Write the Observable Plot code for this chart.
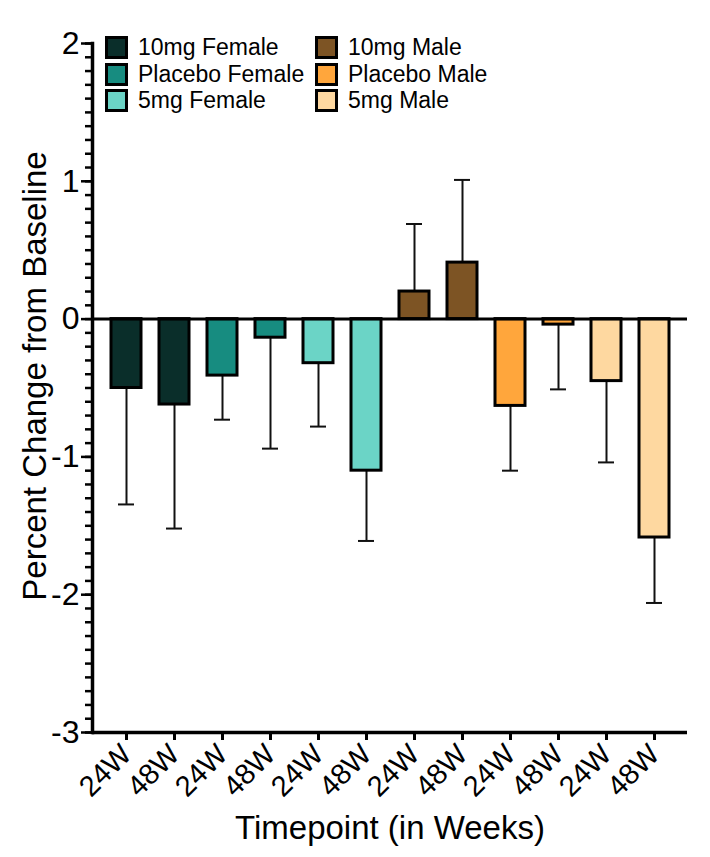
<!DOCTYPE html>
<html>
<head>
<meta charset="utf-8">
<script src="https://cdn.jsdelivr.net/npm/d3@7"></script>
<script src="https://cdn.jsdelivr.net/npm/@observablehq/plot@0.6"></script>
<style>
  html, body { margin: 0; padding: 0; background: #fff; }
  #wrap { position: relative; width: 710px; height: 857px; font-family: "Liberation Sans", Arial, sans-serif; }
  #legend { position: absolute; left: 0; top: 0; width: 710px; height: 120px; pointer-events: none; }
  .item { position: absolute; display: flex; align-items: center; font-size: 23px; color: #000; white-space: nowrap; }
  .sw { width: 17px; height: 17px; border: 3px solid #000; margin-right: 10px; }
</style>
</head>
<body>
<div id="wrap"><div id="legend"></div></div>
<script>
// ---- data ----
const groups = ["10mg Female", "10mg Female", "Placebo Female", "Placebo Female", "5mg Female", "5mg Female",
                "10mg Male", "10mg Male", "Placebo Male", "Placebo Male", "5mg Male", "5mg Male"];
const timepoints = ["24W", "48W", "24W", "48W", "24W", "48W", "24W", "48W", "24W", "48W", "24W", "48W"];
const means = [-0.50, -0.62, -0.41, -0.135, -0.32, -1.10, 0.20, 0.41, -0.63, -0.04, -0.45, -1.585];
const errors = [0.845, 0.90, 0.32, 0.805, 0.46, 0.51, 0.49, 0.60, 0.47, 0.47, 0.59, 0.475];
const groupNames = ["10mg Female", "Placebo Female", "5mg Female", "10mg Male", "Placebo Male", "5mg Male"];
const groupColors = ["#0a2e2a", "#178c80", "#6bd4c6", "#7d5424", "#ffa63c", "#fed8a0"];
const yMajorTicks = [-3, -2, -1, 0, 1, 2];
const yTitle = "Percent Change from Baseline";
const xTitle = "Timepoint (in Weeks)";

const data = groups.map((g, i) => ({
  key: g + "|" + timepoints[i],
  group: g,
  tp: timepoints[i],
  mean: means[i],
  end: means[i] + Math.sign(means[i]) * errors[i]
}));
const keys = data.map(d => d.key);
const yMinorTicks = d3.range(-30, 21).map(v => v / 10);

const font = "Liberation Sans, Arial, sans-serif";

const chart = Plot.plot({
  width: 710,
  height: 857,
  marginLeft: 92,
  marginRight: 23,
  marginTop: 43,
  marginBottom: 125,
  style: { fontFamily: font, background: "#fff", color: "#000" },
  x: { domain: keys, paddingInner: 0.38, paddingOuter: 0.34, axis: null },
  y: { domain: [-3, 2], axis: null },
  color: { domain: groupNames, range: groupColors },
  marks: [
    Plot.axisY(yMinorTicks, { tickSize: 7, tickFormat: null, text: null, strokeWidth: 2.5, stroke: "#000" }),
    Plot.axisY(yMajorTicks, { tickSize: 11, tickPadding: 2, fontSize: 32, strokeWidth: 2.5, stroke: "#000", fill: "#000", tickFormat: d => d < 0 ? "-" + Math.abs(d) : String(d), label: null }),
    Plot.axisX({ tickSize: 8, tickPadding: 9, tickRotate: -45, fontSize: 29, strokeWidth: 3, stroke: "#000", fill: "#000", tickFormat: d => d.split("|")[1], label: null }),
    Plot.ruleX(data, { x: "key", y1: "mean", y2: "end", stroke: "#111", strokeWidth: 2 }),
    Plot.tickY(data, { x: "key", y: "end", stroke: "#111", strokeWidth: 2, insetLeft: 7, insetRight: 7 }),
    Plot.barY(data, { x: "key", y: "mean", fill: "group", stroke: "#000", strokeWidth: 3 }),
    Plot.ruleY([0], { stroke: "#000", strokeWidth: 3 }),
    Plot.ruleY([-3], { stroke: "#000", strokeWidth: 3.5 }),
    Plot.frame({ anchor: "left", stroke: "#000", strokeWidth: 3.5 }),
    Plot.text([yTitle], { frameAnchor: "left", textAnchor: "middle", rotate: -90, dx: -57, dy: -12, fontSize: 33, fill: "#000" }),
    Plot.text([xTitle], { frameAnchor: "bottom", textAnchor: "middle", dy: 106, fontSize: 33, fill: "#000" })
  ]
});
document.getElementById("wrap").appendChild(chart);

// legend overlay
const legend = document.getElementById("legend");
groupNames.forEach((g, i) => {
  const col = Math.floor(i / 3), row = i % 3;
  const item = document.createElement("div");
  item.className = "item";
  item.style.left = (col === 0 ? 105 : 315) + "px";
  item.style.top = (36 + row * 26.7) + "px";
  item.style.height = "23px";
  const sw = document.createElement("div");
  sw.className = "sw";
  sw.style.background = groupColors[i];
  item.appendChild(sw);
  const t = document.createElement("span");
  t.textContent = g;
  item.appendChild(t);
  legend.appendChild(item);
});
</script>
</body>
</html>
